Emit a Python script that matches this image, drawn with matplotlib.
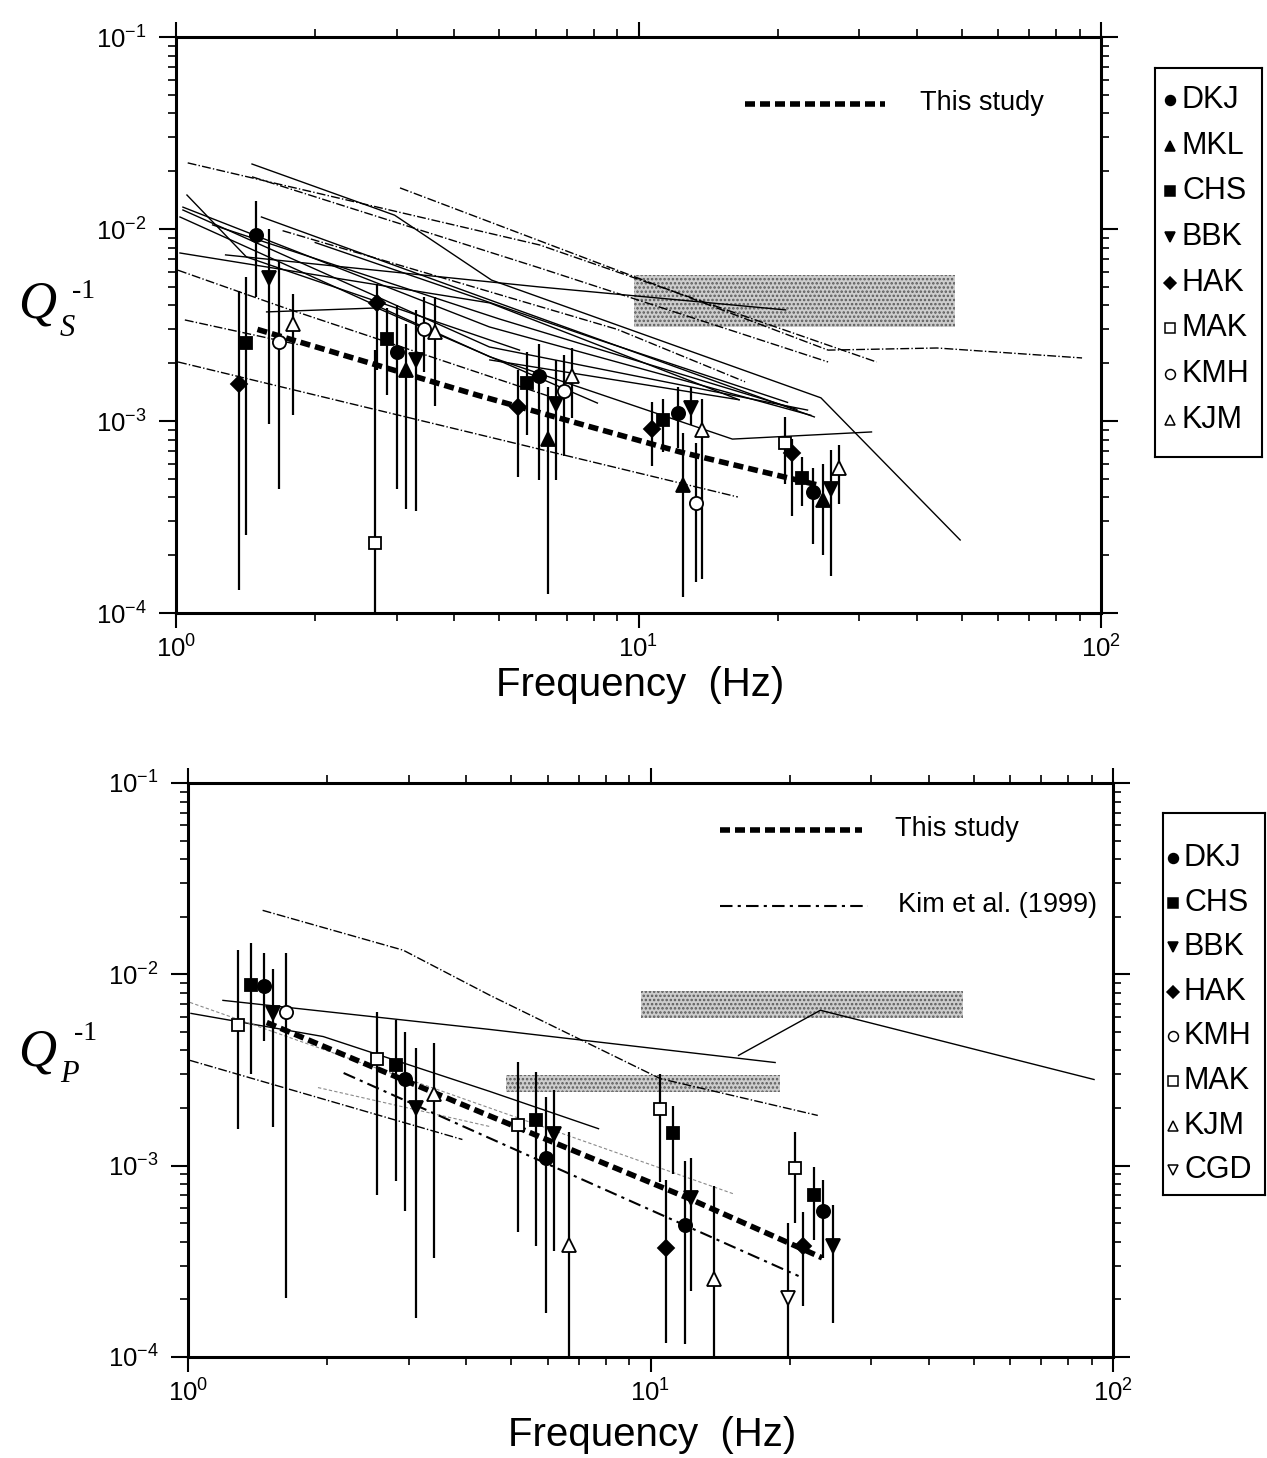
import numpy as np
import matplotlib
matplotlib.use('Agg')
import matplotlib.pyplot as plt
from matplotlib.patches import Rectangle

plt.rcParams['font.family'] = ['Liberation Sans', 'DejaVu Sans']
plt.rcParams['mathtext.fontset'] = 'custom'
plt.rcParams['mathtext.rm'] = 'Liberation Sans'
plt.rcParams['mathtext.it'] = 'Liberation Sans:italic'
plt.rcParams['mathtext.bf'] = 'Liberation Sans:bold'
plt.rcParams['hatch.linewidth'] = 1.2

# ---------------- upper panel: Qs^-1 ----------------
# per station: frequency (Hz), Q^-1, lower end and upper end of the error bar
qs_DKJ = ([1.49, 3.0, 6.08, 12.2, 23.8],
          [0.0093, 0.00229, 0.00171, 0.0011, 0.000426],
          [0.0044, 0.00044, 0.00049, 0.00072, 0.00023],
          [0.014, 0.004, 0.00253, 0.0015, 0.00057])
qs_MKL = ([3.14, 6.36, 12.5, 25.0],
          [0.00185, 0.00081, 0.000464, 0.000388],
          [0.00035, 0.000126, 0.000121, 0.0002],
          [0.0032, 0.0015, 0.00087, 0.0006])
qs_CHS = ([1.42, 2.86, 5.73, 11.27, 22.6],
          [0.00255, 0.00267, 0.00158, 0.00101, 0.000504],
          [0.000255, 0.00136, 0.00085, 0.00069, 0.00036],
          [0.0056, 0.0039, 0.0023, 0.0013, 0.00065])
qs_BBK = ([1.59, 3.30, 6.62, 13.0, 26.1],
          [0.00556, 0.00208, 0.00123, 0.00117, 0.000442],
          [0.00096, 0.00034, 0.00049, 0.00095, 0.000155],
          [0.01, 0.0038, 0.00208, 0.0015, 0.00071])
qs_HAK = ([1.37, 2.72, 5.48, 10.67, 21.5],
          [0.00156, 0.00412, 0.00118, 0.00091, 0.00068],
          [0.000132, 0.00185, 0.00051, 0.00058, 0.00032],
          [0.00477, 0.0052, 0.00185, 0.00125, 0.00081])
qs_MAK = ([2.69, 20.7],
          [0.000232, 0.00077],
          [0.00008, 0.00047],
          [0.00234, 0.00105])
qs_KMH = ([1.67, 3.43, 6.89, 13.3],
          [0.00258, 0.0030, 0.00143, 0.000374],
          [0.00044, 0.0018, 0.00066, 0.000145],
          [0.0067, 0.0044, 0.0022, 0.00077])
qs_KJM = ([1.79, 3.63, 7.17, 13.75, 27.2],
          [0.0032, 0.0029, 0.00171, 0.0009, 0.00057],
          [0.00107, 0.0012, 0.00104, 0.00015, 0.00037],
          [0.0046, 0.0044, 0.0024, 0.0013, 0.00075])

qs_study_f = [1.5, 4.5, 12.3, 24.8]
qs_study_q = [0.0030, 0.00136, 0.00069, 0.00046]

# earlier studies (thin lines): frequency, Q^-1
qs_prev = [
    ([1.06, 6.11, 32.7], [0.0221, 0.00826, 0.00203]),
    ([1.46, 2.97, 4.81, 24.8, 49.6], [0.0218, 0.0118, 0.00542, 0.00132, 0.00024]),
    ([1.46, 6.11, 25.7], [0.0187, 0.00627, 0.00203]),
    ([1.28, 6.11, 20.8], [0.00733, 0.00499, 0.00379]),
    ([1.57, 2.72, 8.15], [0.0037, 0.00388, 0.00124]),
    ([1.01, 16.4], [0.00203, 0.000402]),
    ([1.045, 1.85], [0.00336, 0.00249]),
    ([1.02, 4.77, 16.5], [0.0075, 0.00412, 0.00129]),
    ([1.02, 4.77, 15.96, 31.9], [0.01155, 0.00216, 0.000805, 0.000877]),
    ([1.035, 4.76, 23.6], [0.0130, 0.00309, 0.00107]),
    ([1.035, 4.76, 23.2], [0.01256, 0.00243, 0.00114]),
    ([1.53, 4.77, 24.0], [0.01155, 0.00427, 0.00105]),
    ([1.056, 1.42, 5.53], [0.01503, 0.00715, 0.00234]),
    ([3.05, 25.7, 44.2, 91.0], [0.01637, 0.00234, 0.0024, 0.00213]),
    ([1.01, 1.72, 6.75], [0.0061, 0.00388, 0.00129]),
    ([4.77, 16.5], [0.00208, 0.00129]),
    ([1.2, 5.0, 22.0], [0.0105, 0.0034, 0.00115]),
    ([2.0, 8.0, 21.0], [0.0085, 0.0027, 0.00125]),
    ([1.7, 9.0, 17.0], [0.0098, 0.0030, 0.0016]),
]
qs_prev_style = ['-.', '-', '-.', '-', '-', '-.', '-.', '-', '-', '-', '-', '-', '-',
                 '-.', '-.', '-', '-', '-', '-.']

# grey band: f range, Q^-1 range
qs_band = [([9.8, 48.3], [0.0031, 0.00575])]

# ---------------- lower panel: Qp^-1 ----------------
qp_DKJ = ([1.46, 2.95, 5.93, 11.85, 23.6],
          [0.0087, 0.00285, 0.0011, 0.00049, 0.00058],
          [0.0045, 0.00058, 0.00017, 0.000117, 0.00033],
          [0.013, 0.005, 0.00228, 0.00106, 0.00084])
qp_CHS = ([1.37, 2.82, 5.66, 11.2, 22.6],
          [0.00877, 0.00336, 0.00173, 0.00148, 0.0007],
          [0.003, 0.00083, 0.00038, 0.00091, 0.00041],
          [0.0145, 0.0058, 0.0031, 0.00205, 0.00099])
qp_BBK = ([1.53, 3.11, 6.2, 12.25, 24.8],
          [0.00625, 0.002, 0.00147, 0.000675, 0.00038],
          [0.0016, 0.00016, 0.00036, 0.00022, 0.00015],
          [0.0106, 0.0041, 0.0025, 0.0011, 0.00062])
qp_HAK = ([10.8, 21.4],
          [0.000373, 0.00038],
          [0.000119, 0.000185],
          [0.00084, 0.00057])
qp_KMH = ([1.63],
          [0.00637],
          [0.000204],
          [0.0129])
qp_MAK = ([1.28, 2.56, 5.17, 10.5, 20.5],
          [0.00545, 0.00361, 0.00163, 0.00198, 0.00097],
          [0.00156, 0.0007, 0.000448, 0.00082, 0.0005],
          [0.0134, 0.00637, 0.00347, 0.003, 0.0015])
qp_KJM = ([3.40, 6.66, 13.7],
          [0.00238, 0.000385, 0.000255],
          [0.00033, 0.00009, 0.00009],
          [0.0044, 0.0015, 0.00078])
qp_CGD = ([19.8],
          [0.000204],
          [0.00009],
          [0.0005])

qp_study_f = [1.48, 4.3, 12.0, 23.5]
qp_study_q = [0.0056, 0.0019, 0.00068, 0.00033]
qp_kim_f = [2.17, 20.9]
qp_kim_q = [0.00305, 0.000265]

qp_prev = [
    ([1.45, 2.92, 4.5, 10.5, 23.0], [0.0216, 0.01337, 0.00776, 0.00285, 0.00183]),
    ([1.19, 4.5, 18.6], [0.00731, 0.00515, 0.00346]),
    ([15.5, 23.3, 91.0], [0.00377, 0.00649, 0.00282]),
    ([1.015, 1.96, 4.5, 7.72], [0.00625, 0.00473, 0.00244, 0.00156]),
    ([1.01, 3.92], [0.00355, 0.00137]),
]
qp_prev_style = ['-.', '-', '-', '-', '-.']
qp_faint = [
    ([1.01, 15.1], [0.00713, 0.000713]),
    ([1.91, 4.5], [0.00256, 0.0016]),
]
qp_band = [([9.55, 47.5], [0.0059, 0.0082]),
           ([4.86, 19.1], [0.00242, 0.00296])]

MARKERS = {'DKJ': ('o', True), 'MKL': ('^', True), 'CHS': ('s', True),
           'BBK': ('v', True), 'HAK': ('D', True), 'MAK': ('s', False),
           'KMH': ('o', False), 'KJM': ('^', False), 'CGD': ('v', False)}
MS = {'o': 9.5, '^': 10.5, 'v': 10.5, 's': 9, 'D': 8}

W, H = 1267, 1458
fig = plt.figure(figsize=(W / 100, H / 100), dpi=100)


def px_rect(x0, y0, x1, y1):
    return [x0 / W, 1 - y1 / H, (x1 - x0) / W, (y1 - y0) / H]


def setup_axes(ax):
    ax.set_xscale('log')
    ax.set_yscale('log')
    ax.set_xlim(1, 100)
    ax.set_ylim(1e-4, 1e-1)
    for s in ax.spines.values():
        s.set_linewidth(2.2)
    ax.tick_params(which='both', direction='out', top=True, right=True,
                   labelsize=18.5, width=1.5)
    ax.tick_params(axis='y', which='major', length=12, pad=9)
    ax.tick_params(axis='x', which='major', length=11, pad=5)
    ax.tick_params(which='minor', length=6, width=1.2)
    ax.tick_params(which='minor', labelbottom=False, labelleft=False)


def draw_station(ax, data, name):
    f, q, lo, hi = (np.array(a) for a in data)
    m, filled = MARKERS[name]
    ax.vlines(f, lo, hi, color='k', lw=1.6, zorder=3)
    ax.plot(f, q, ls='none', marker=m, ms=MS[m],
            mfc='k' if filled else 'white', mec='k', mew=1.3, zorder=5)


def draw_band(ax, fr, qr):
    ax.add_patch(Rectangle((fr[0], qr[0]), fr[1] - fr[0], qr[1] - qr[0],
                           facecolor='#cdcdcd', edgecolor='#5a5a5a', hatch='....',
                           linewidth=0, zorder=1))


# ---------- upper panel ----------
ax1 = fig.add_axes(px_rect(176, 37, 1101, 613))
setup_axes(ax1)
for fr, qr in qs_band:
    draw_band(ax1, fr, qr)
for (f, q), st in zip(qs_prev, qs_prev_style):
    ax1.plot(f, q, color='k', lw=1.0, ls=st, zorder=2)
ax1.plot(qs_study_f, qs_study_q, color='k', lw=4, ls=(0, (1.8, 0.9)),
         solid_capstyle='butt', zorder=4)
for name, data in [('DKJ', qs_DKJ), ('MKL', qs_MKL), ('CHS', qs_CHS), ('BBK', qs_BBK),
                   ('HAK', qs_HAK), ('MAK', qs_MAK), ('KMH', qs_KMH), ('KJM', qs_KJM)]:
    draw_station(ax1, data, name)
ax1.plot([0.615, 0.766], [0.884, 0.884], transform=ax1.transAxes, color='k', lw=4,
         ls=(0, (1.8, 0.9)))
ax1.text(0.804, 0.886, 'This study', transform=ax1.transAxes, fontsize=19.5,
         va='center', ha='left')

# ---------- lower panel ----------
ax2 = fig.add_axes(px_rect(188, 783, 1113, 1357))
setup_axes(ax2)
for fr, qr in qp_band:
    draw_band(ax2, fr, qr)
for (f, q), st in zip(qp_prev, qp_prev_style):
    ax2.plot(f, q, color='k', lw=1.0, ls=st, zorder=2)
for f, q in qp_faint:
    ax2.plot(f, q, color='#8a8a8a', lw=0.8, ls=(0, (3, 2)), zorder=2)
ax2.plot(qp_kim_f, qp_kim_q, color='k', lw=1.5, ls=(0, (6, 2.5, 1.5, 2.5)), zorder=3)
ax2.plot(qp_study_f, qp_study_q, color='k', lw=4, ls=(0, (1.8, 0.9)),
         solid_capstyle='butt', zorder=4)
for name, data in [('DKJ', qp_DKJ), ('CHS', qp_CHS), ('BBK', qp_BBK), ('HAK', qp_HAK),
                   ('KMH', qp_KMH), ('MAK', qp_MAK), ('KJM', qp_KJM), ('CGD', qp_CGD)]:
    draw_station(ax2, data, name)
ax2.plot([0.575, 0.729], [0.918, 0.918], transform=ax2.transAxes, color='k', lw=4,
         ls=(0, (1.8, 0.9)))
ax2.text(0.764, 0.920, 'This study', transform=ax2.transAxes, fontsize=19.5,
         va='center', ha='left')
ax2.plot([0.575, 0.735], [0.786, 0.786], transform=ax2.transAxes, color='k', lw=1.5,
         ls=(0, (6, 2.5, 1.5, 2.5)))
ax2.text(0.768, 0.788, 'Kim et al. (1999)', transform=ax2.transAxes, fontsize=19.5,
         va='center', ha='left')

# axis titles
fig.text(640 / W, 1 - 685 / H, 'Frequency  (Hz)', fontsize=29, ha='center', va='center')
fig.text(652 / W, 1 - 1435 / H, 'Frequency  (Hz)', fontsize=29, ha='center', va='center')

serif = ['Liberation Serif', 'DejaVu Serif']
fig.text(18 / W, 1 - 318 / H, 'Q', family=serif, style='italic', fontsize=38, va='baseline')
fig.text(60 / W, 1 - 336 / H, 'S', family=serif, style='italic', fontsize=22, va='baseline')
fig.text(72 / W, 1 - 298 / H, '-1', family=serif, fontsize=20, va='baseline')
fig.text(18 / W, 1 - 1066 / H, 'Q', family=serif, style='italic', fontsize=38, va='baseline')
fig.text(60 / W, 1 - 1082 / H, 'P', family=serif, style='italic', fontsize=22, va='baseline')
fig.text(74 / W, 1 - 1040 / H, '-1', family=serif, fontsize=20, va='baseline')


# ---------- legend boxes ----------
def legend_box(x0, y0, x1, y1, names, first_y, step, mx, tx):
    lax = fig.add_axes(px_rect(x0, y0, x1, y1))
    lax.set_xlim(x0, x1)
    lax.set_ylim(y1, y0)
    lax.set_xticks([])
    lax.set_yticks([])
    for s in lax.spines.values():
        s.set_linewidth(1.5)
    for i, name in enumerate(names):
        m, filled = MARKERS[name]
        y = first_y + i * step
        lax.plot(mx, y, marker=m, ms=MS[m] * 0.75, mfc='k' if filled else 'white',
                 mec='k', mew=1.1)
        lax.text(tx, y, name, fontsize=22, va='center', ha='left')


legend_box(1155, 68, 1262, 457, ['DKJ', 'MKL', 'CHS', 'BBK', 'HAK', 'MAK', 'KMH', 'KJM'],
           100, 45.7, 1170, 1182)
legend_box(1163, 813, 1265, 1195, ['DKJ', 'CHS', 'BBK', 'HAK', 'KMH', 'MAK', 'KJM', 'CGD'],
           858, 44.6, 1173, 1184)

fig.savefig('out.png', dpi=100)
